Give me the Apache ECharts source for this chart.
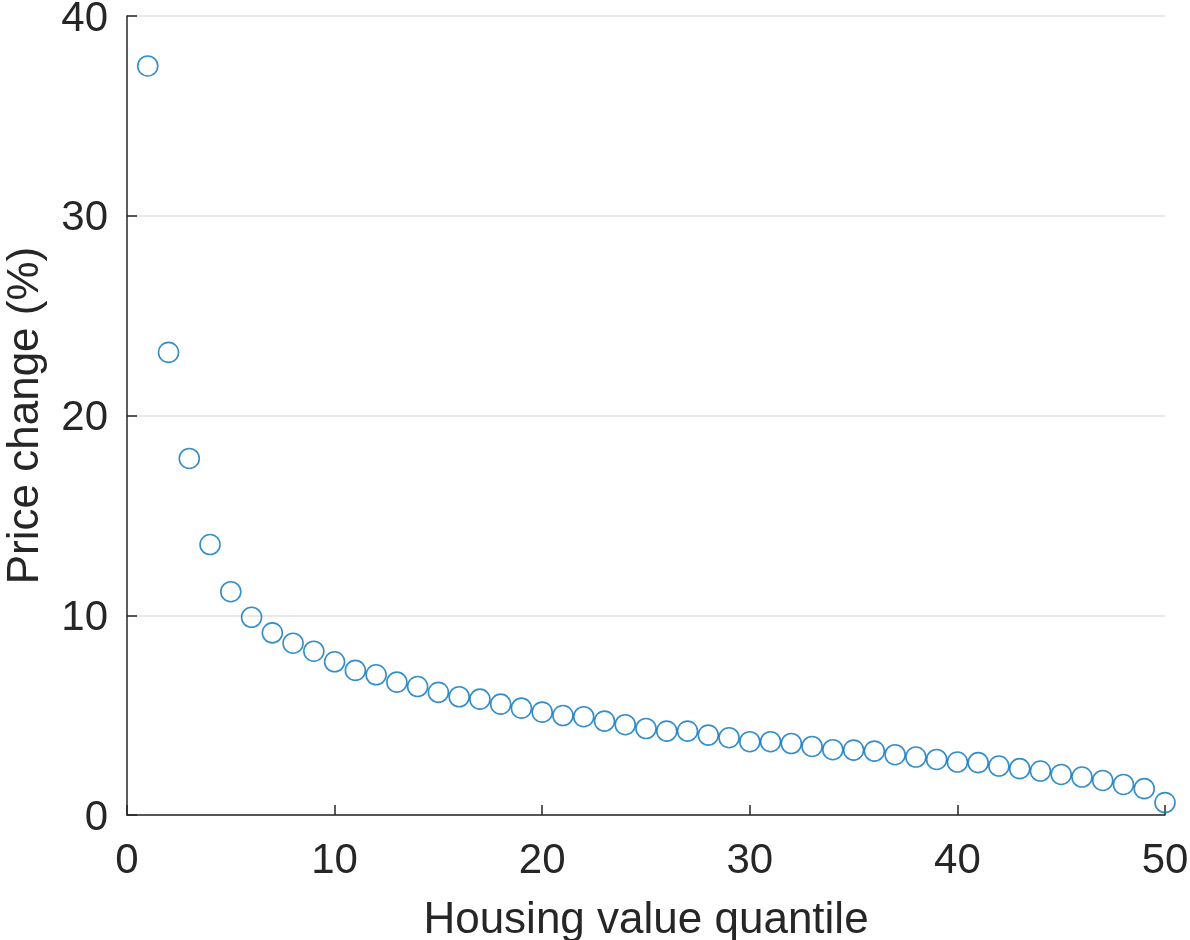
<!DOCTYPE html>
<html lang="en">
<head>
    <meta charset="utf-8">
    <title>Price change by housing value quantile</title>
    <script src="https://cdn.jsdelivr.net/npm/echarts@6/dist/echarts.min.js"></script>
    <style>
        html, body { margin: 0; padding: 0; background: #fff; }
        #chart { width: 1190px; height: 940px; }
    </style>
</head>
<body>
<div id="chart"></div>

<script>
    // quantile index 1..50
    var quantiles = [];
    for (var i = 1; i <= 50; i++) quantiles.push(i);

    // price change (%)
    var priceChange = [
        37.5, 23.16, 17.85, 13.54, 11.18, 9.9, 9.12, 8.6, 8.2, 7.67,
        7.24, 7.02, 6.65, 6.43, 6.14, 5.92, 5.8, 5.55, 5.35, 5.15,
        4.98, 4.92, 4.7, 4.52, 4.33, 4.2, 4.2, 4.0, 3.87, 3.67,
        3.67, 3.58, 3.43, 3.27, 3.25, 3.2, 3.02, 2.9, 2.78, 2.65,
        2.62, 2.45, 2.32, 2.2, 2.03, 1.9, 1.73, 1.53, 1.32, 0.62
    ];

    var xTicks = [0, 10, 20, 30, 40, 50];
    var yTicks = [0, 10, 20, 30, 40];

    var points = quantiles.map(function (q, k) { return [q, priceChange[k]]; });

    var txt = '#262626';
    var font = 'Liberation Sans, Arial, Helvetica, sans-serif';

    var chart = echarts.init(document.getElementById('chart'));
    chart.setOption({
        animation: false,
        backgroundColor: '#ffffff',
        grid: {
            left: 127, right: 25, top: 16, bottom: 125,
            containLabel: false,
            outerBoundsMode: 'none'
        },
        xAxis: {
            type: 'value',
            min: xTicks[0],
            max: xTicks[xTicks.length - 1],
            interval: 10,
            name: 'Housing value quantile',
            nameLocation: 'middle',
            nameGap: 84,
            nameTextStyle: { color: txt, fontSize: 44, fontFamily: font },
            axisLine: { show: true, lineStyle: { color: txt, width: 1.5 } },
            axisTick: { show: true, inside: true, length: 10, lineStyle: { color: txt, width: 1.5 } },
            axisLabel: { color: txt, fontSize: 42, fontFamily: font, margin: 25 },
            splitLine: { show: false }
        },
        yAxis: {
            type: 'value',
            min: yTicks[0],
            max: yTicks[yTicks.length - 1],
            interval: 10,
            name: 'Price change (%)',
            nameLocation: 'middle',
            nameGap: 79,
            nameRotate: 90,
            nameTextStyle: { color: txt, fontSize: 44, fontFamily: font },
            axisLine: { show: true, lineStyle: { color: txt, width: 1.5 } },
            axisTick: { show: true, inside: true, length: 10, lineStyle: { color: txt, width: 1.5 } },
            axisLabel: {
                margin: 19,
                formatter: function (v) { return '{t|' + v + '}'; },
                rich: { t: { color: txt, fontSize: 42, fontFamily: font, padding: [6, 0, 0, 0] } }
            },
            splitLine: { show: true, lineStyle: { color: '#e3e3e3', width: 1.5 } }
        },
        series: [
            {
                type: 'scatter',
                data: points,
                symbol: 'circle',
                symbolSize: 20,
                itemStyle: { color: 'rgba(255,255,255,0)', borderColor: '#0072BD', borderWidth: 1.6 },
                clip: false
            }
        ]
    });
</script>
</body>
</html>
